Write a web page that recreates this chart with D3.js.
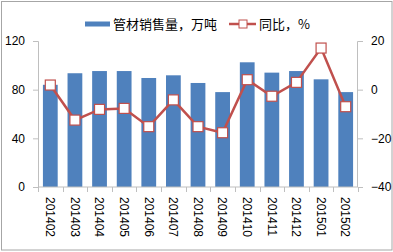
<!DOCTYPE html>
<html>
<head>
<meta charset="utf-8">
<script src="https://cdn.jsdelivr.net/npm/d3@7"></script>
<style>
  body { margin: 0; background: #fff; }
  text { font-family: "Liberation Sans", Arial, sans-serif; fill: #000; }
  .cjk { font-family: "Noto Sans CJK SC", sans-serif; }
</style>
</head>
<body>
<div class="chart"></div>
<script>
// data
var months = ["201402", "201403", "201404", "201405", "201406", "201407", "201408",
              "201409", "201410", "201411", "201412", "201501", "201502"];
var sales = [84, 93.5, 95.3, 95.3, 89.6, 91.8, 85.5, 78, 102.5, 94, 95.3, 88.5, 78];
var yoy = [1.9, -12.5, -8.1, -7.7, -15.2, -4.2, -15.2, -17.7, 4.1, -2.7, 3.0, 17.1, -7.0];
var leftTicks = [0, 40, 80, 120];
var rightTicks = [-40, -20, 0, 20];
var seriesNames = ["管材销售量，万吨", "同比，%"];

var svgWidth = 393;
var svgHeight = 252;
var margin = {top: 41, right: 35, bottom: 65, left: 38};
var width = 358 - margin.left;
var height = 187 - margin.top;

var svg = d3.select('.chart')
  .append('svg')
  .attr('width', svgWidth)
  .attr('height', svgHeight);

// outer frame
svg.append('rect')
  .attr('x', 1.5).attr('y', 1.5)
  .attr('width', svgWidth - 2.5).attr('height', svgHeight - 3.5)
  .attr('fill', 'none').attr('stroke', '#a6a6a6').attr('stroke-width', 1);

var chart = svg.append('g')
  .attr('transform', 'translate(' + margin.left + ',' + margin.top + ')');

var x = d3.scaleBand().domain(months).range([0, width]).paddingInner(0.4).paddingOuter(0.2);
var yLeft = d3.scaleLinear().domain([0, 120]).range([height, 0]);
var yRight = d3.scaleLinear().domain([-40, 20]).range([height, 0]);

// bars
chart.selectAll('rect.bar')
  .data(sales)
  .enter()
  .append('rect')
  .attr('class', 'bar')
  .attr('x', function(d, i) { return x(months[i]); })
  .attr('width', x.bandwidth())
  .attr('y', function(d) { return yLeft(d); })
  .attr('height', function(d) { return height - yLeft(d); })
  .attr('fill', '#4f81bd');

// axes
var axisColor = '#bfbfbf';
var leftAxis = chart.append('g')
  .call(d3.axisLeft(yLeft).tickValues(leftTicks).tickSize(5).tickPadding(8));
var rightAxis = chart.append('g')
  .attr('transform', 'translate(' + width + ',0)')
  .call(d3.axisRight(yRight).tickValues(rightTicks).tickSize(5).tickPadding(8));

// x axis: ticks at category boundaries
var step = x.step();
var xg = chart.append('g').attr('transform', 'translate(0,' + height + ')');
xg.append('line')
  .attr('x1', 0).attr('x2', width)
  .attr('stroke', axisColor);
xg.selectAll('line.tick')
  .data(d3.range(months.length + 1))
  .enter()
  .append('line')
  .attr('class', 'tick')
  .attr('x1', function(i) { return Math.round(i * width / months.length) + 0.5; })
  .attr('x2', function(i) { return Math.round(i * width / months.length) + 0.5; })
  .attr('y1', 0).attr('y2', 5)
  .attr('stroke', axisColor);
xg.selectAll('text')
  .data(months)
  .enter()
  .append('text')
  .attr('transform', function(d) {
    return 'translate(' + (x(d) + x.bandwidth() / 2) + ',10) rotate(90)';
  })
  .attr('dy', '0.35em')
  .style('font-size', '12px')
  .style('text-anchor', 'start')
  .text(function(d) { return d; });

[leftAxis, rightAxis].forEach(function(g) {
  g.select('.domain').attr('stroke', axisColor);
  g.selectAll('.tick line').attr('stroke', axisColor);
  g.selectAll('.tick text').style('font-size', '12px').attr('fill', '#000')
    .style('font-family', '"Liberation Sans", Arial, sans-serif');
});
leftAxis.select('.domain').attr('d', 'M-5,0.5H0.5V' + height);
rightAxis.select('.domain').attr('d', 'M5,0.5H-0.5V' + height);

// yoy line
var line = d3.line()
  .x(function(d, i) { return x(months[i]) + x.bandwidth() / 2; })
  .y(function(d) { return yRight(d); });

chart.append('path')
  .datum(yoy)
  .attr('d', line)
  .attr('fill', 'none')
  .attr('stroke', '#c0504d')
  .attr('stroke-width', 2.5);

chart.selectAll('rect.marker')
  .data(yoy)
  .enter()
  .append('rect')
  .attr('class', 'marker')
  .attr('x', function(d, i) { return x(months[i]) + x.bandwidth() / 2 - 5; })
  .attr('y', function(d) { return yRight(d) - 5; })
  .attr('width', 10).attr('height', 10)
  .attr('fill', '#fff')
  .attr('stroke', '#c0504d')
  .attr('stroke-width', 1.2);

// legend
var legend = svg.append('g');
legend.append('rect')
  .attr('x', 85).attr('y', 21.5).attr('width', 25).attr('height', 5)
  .attr('fill', '#4f81bd');
legend.append('text')
  .attr('class', 'cjk')
  .attr('x', 113).attr('y', 24).attr('dy', '0.35em')
  .style('font-size', '13px')
  .text(seriesNames[0]);
legend.append('line')
  .attr('x1', 229).attr('x2', 256).attr('y1', 24).attr('y2', 24)
  .attr('stroke', '#c0504d').attr('stroke-width', 2.5);
legend.append('rect')
  .attr('x', 239).attr('y', 20).attr('width', 8).attr('height', 8)
  .attr('fill', '#fff').attr('stroke', '#c0504d').attr('stroke-width', 1);
legend.append('text')
  .attr('class', 'cjk')
  .attr('x', 259).attr('y', 24).attr('dy', '0.35em')
  .style('font-size', '13px')
  .text(seriesNames[1]);
</script>
</body>
</html>
